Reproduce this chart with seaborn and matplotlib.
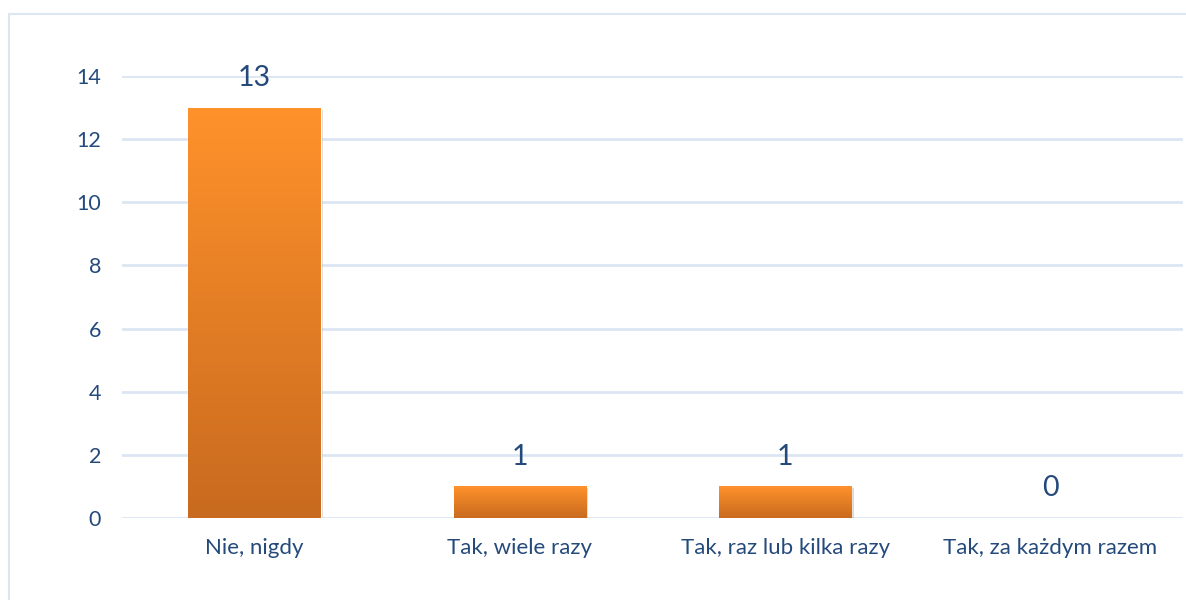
import numpy as np
import pandas as pd
import matplotlib
matplotlib.use("Agg")
import matplotlib.pyplot as plt
import matplotlib.patheffects as pe
from matplotlib.lines import Line2D
import seaborn as sns

# chart data
categories = ["Nie, nigdy", "Tak, wiele razy", "Tak, raz lub kilka razy", "Tak, za każdym razem"]
counts = [13, 1, 1, 0]
y_ticks = [0, 2, 4, 6, 8, 10, 12, 14]

text_color = "#244A7C"
grid_color = "#DCE6F3"
top_orange = "#FF922B"
bottom_orange = "#C86A1F"

sns.set_theme(style="white")
plt.rcParams["font.family"] = ["Lato", "DejaVu Sans"]

df = pd.DataFrame({"answer": categories, "count": counts})

fig = plt.figure(figsize=(11.86, 6), dpi=100)
ax = fig.add_axes([0.1029, 0.1367, 0.8946, 0.7366])

sns.barplot(data=df, x="answer", y="count", color=top_orange, width=0.5,
            saturation=1, ax=ax, zorder=3)

ax.set_xlim(-0.5, 3.5)
ax.set_ylim(0, 14)
ax.set_yticks(y_ticks)
ax.yaxis.grid(True, color=grid_color, linewidth=2, zorder=0)
ax.xaxis.grid(False)
for s in ax.spines.values():
    s.set_visible(False)
ax.set_xlabel("")
ax.set_ylabel("")
ax.tick_params(axis="y", length=0, pad=15, labelsize=15.5, labelcolor=text_color)
ax.tick_params(axis="x", length=0, pad=14.5, labelsize=16, labelcolor=text_color)

# vertical gradient fill on every bar
grad = np.linspace(0, 1, 256).reshape(-1, 1)
cmap = matplotlib.colors.LinearSegmentedColormap.from_list("bar", [bottom_orange, top_orange])
for bar in ax.patches:
    h = bar.get_height()
    if h <= 0:
        bar.set_visible(False)
        continue
    x0 = bar.get_x()
    w = bar.get_width()
    bar.set_path_effects([pe.SimplePatchShadow(offset=(1.5, -1.5), alpha=0.18), pe.Normal()])
    img = ax.imshow(grad, extent=[x0, x0 + w, 0, h], origin="lower", aspect="auto",
                    cmap=cmap, zorder=4)
    img.set_clip_path(bar)

ax.set_xlim(-0.5, 3.5)
ax.set_ylim(0, 14)

for i, v in enumerate(counts):
    ax.annotate(str(v), (i, v), xytext=(0, 21.5), textcoords="offset points",
                ha="center", va="center", fontsize=20.5, color=text_color,
                annotation_clip=False, zorder=5)

# outer chart frame (top and left edges visible)
fig.add_artist(Line2D([9 / 1186, 1.0], [1 - 14 / 600, 1 - 14 / 600],
                      transform=fig.transFigure, color=grid_color, linewidth=1.5))
fig.add_artist(Line2D([9 / 1186, 9 / 1186], [0, 1 - 14 / 600],
                      transform=fig.transFigure, color=grid_color, linewidth=1.5))

fig.savefig("out.png", dpi=100, facecolor="white")
